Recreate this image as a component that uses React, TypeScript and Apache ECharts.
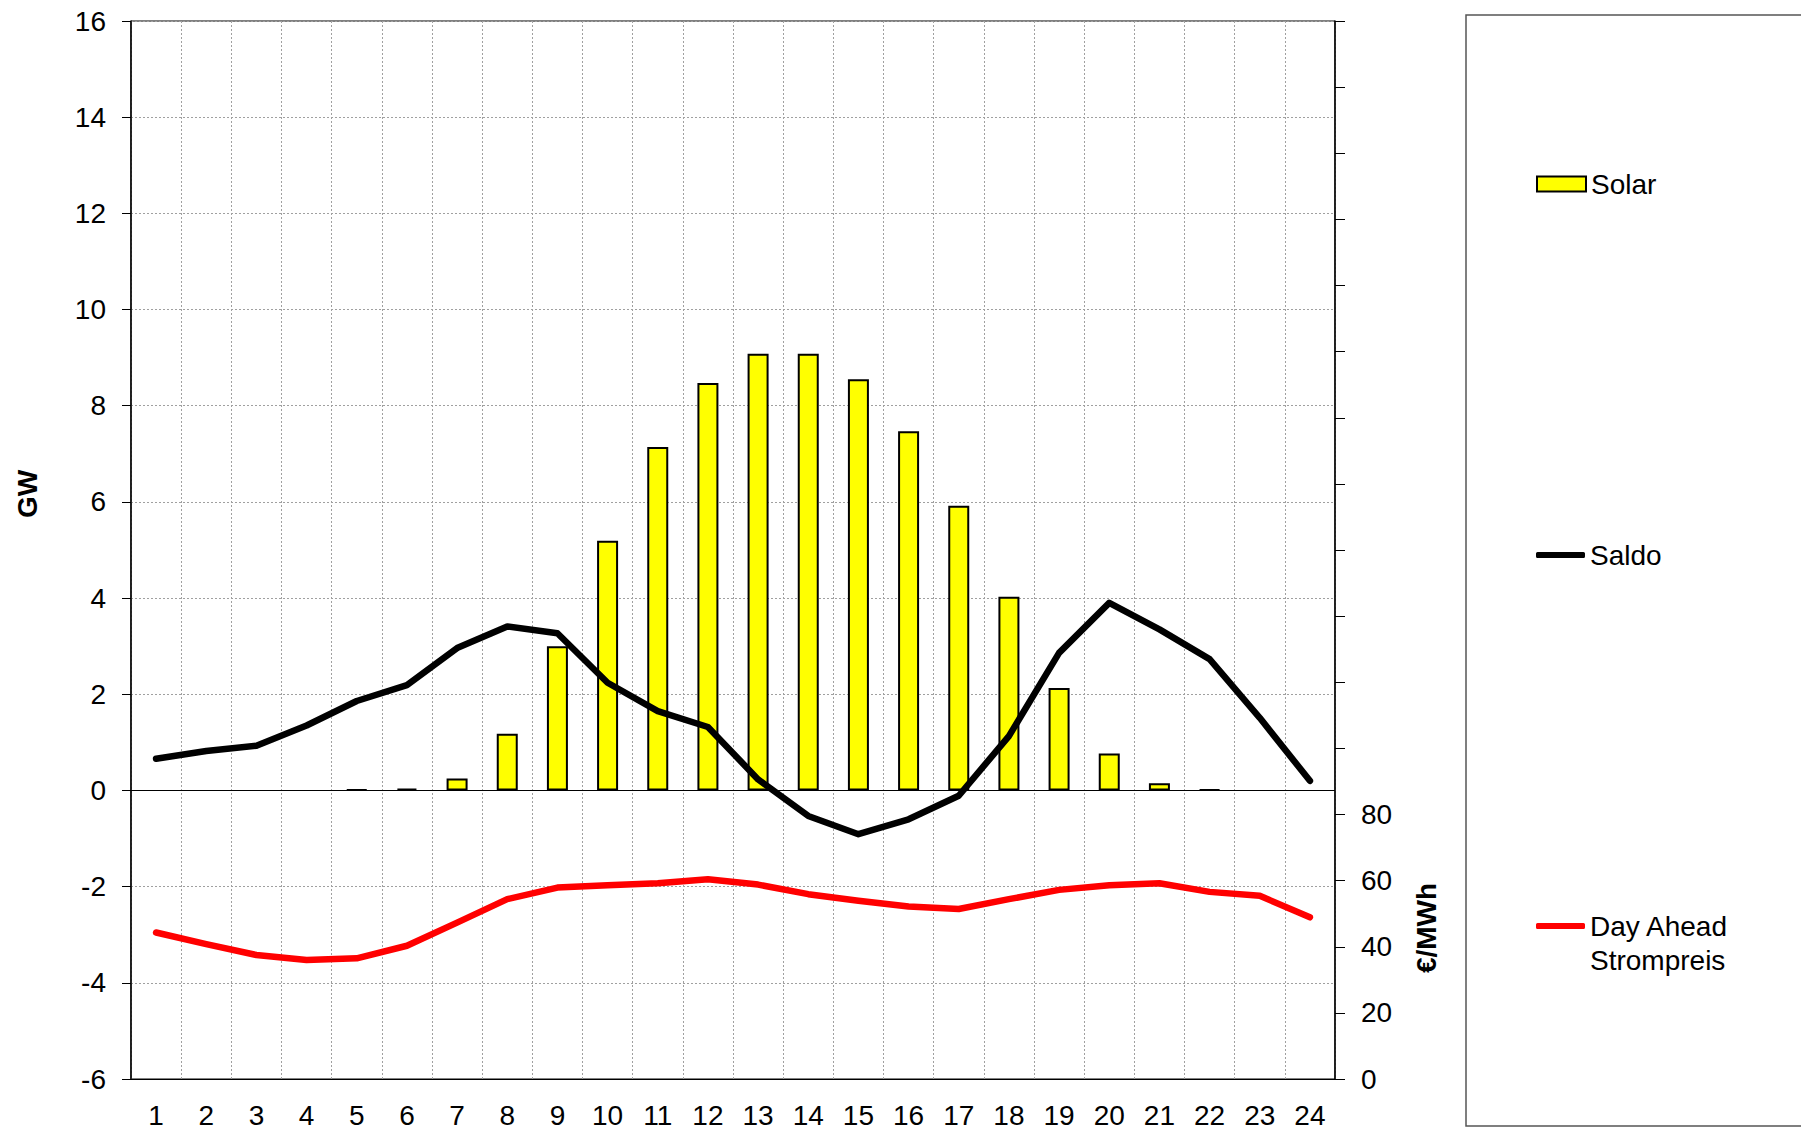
import React, { useEffect, useRef } from "react";
import * as echarts from "echarts";

const hours = ["1","2","3","4","5","6","7","8","9","10","11","12","13","14","15","16","17","18","19","20","21","22","23","24"];
const solar = [null, null, null, null, 0.02, 0.04, 0.25, 1.18, 3.0, 5.19, 7.14, 8.47, 9.08, 9.08, 8.55, 7.47, 5.92, 4.03, 2.13, 0.77, 0.15, 0.02, null, null];
const saldo = [0.66, 0.82, 0.93, 1.35, 1.86, 2.19, 2.96, 3.41, 3.27, 2.24, 1.65, 1.32, 0.23, -0.53, -0.91, -0.6, -0.11, 1.13, 2.86, 3.9, 3.35, 2.73, 1.51, 0.2];
const price = [44.3, 40.8, 37.5, 36.0, 36.5, 40.3, 47.3, 54.4, 57.9, 58.6, 59.2, 60.4, 58.8, 55.9, 53.9, 52.2, 51.4, 54.4, 57.2, 58.6, 59.2, 56.6, 55.4, 48.9];
const leftTicks = { min: -6, max: 16, interval: 2 };
const rightTicks = { min: 0, max: 320, interval: 20, labelMax: 80 };

const FONT = "'Liberation Sans', Arial, sans-serif";

export default function App() {
  const ref = useRef<HTMLDivElement>(null);
  useEffect(() => {
    document.body.style.margin = "0";
    document.body.style.overflow = "hidden";
    const chart = echarts.init(ref.current!, null, { renderer: "svg" });
    const option: any = {
      animation: false,
      backgroundColor: "#fff",
      textStyle: { fontFamily: FONT },
      grid: { left: 131, right: 466, top: 21, bottom: 49, show: true, borderColor: "#000", borderWidth: 1, backgroundColor: "transparent" },
      xAxis: {
        type: "category",
        data: hours,
        boundaryGap: true,
        axisLine: { show: true, onZero: false, lineStyle: { color: "#000", width: 1 } },
        axisTick: { show: false },
        axisLabel: { interval: 0, fontSize: 28, color: "#000", margin: 22, fontFamily: FONT },
        splitLine: { show: true, interval: 0, lineStyle: { color: "#a0a0a0", width: 1, type: [2, 2] } },
      },
      yAxis: [
        {
          type: "value",
          min: leftTicks.min,
          max: leftTicks.max,
          interval: leftTicks.interval,
          position: "left",
          axisLine: { show: true, lineStyle: { color: "#000", width: 1.5 } },
          axisTick: { show: true, length: 9, lineStyle: { color: "#000" } },
          axisLabel: { fontSize: 28, color: "#000", margin: 25, fontFamily: FONT },
          splitLine: { show: true, lineStyle: { color: "#a0a0a0", width: 1, type: [2, 2] } },
        },
        {
          type: "value",
          min: rightTicks.min,
          max: rightTicks.max,
          interval: rightTicks.interval,
          position: "right",
          axisLine: { show: true, lineStyle: { color: "#000", width: 1.5 } },
          axisTick: { show: true, length: 10, lineStyle: { color: "#000" } },
          axisLabel: {
            fontSize: 28,
            color: "#000",
            margin: 26,
            fontFamily: FONT,
            formatter: (v: number) => (v <= rightTicks.labelMax ? String(v) : ""),
          },
          splitLine: { show: false },
        },
      ],
      legend: [
        {
          data: ["Solar"],
          left: 1536,
          top: 167,
          padding: 0,
          selectedMode: false,
          itemWidth: 49,
          itemHeight: 15,
          icon: "rect",
          textStyle: { fontSize: 28, color: "#000", lineHeight: 34, fontFamily: FONT },
        },
        {
          data: ["Saldo"],
          left: 1536,
          top: 538,
          padding: 0,
          selectedMode: false,
          itemWidth: 49,
          itemHeight: 6,
          icon: "roundRect",
          textStyle: { fontSize: 28, color: "#000", lineHeight: 34, fontFamily: FONT },
        },
        {
          data: ["Day Ahead Strompreis"],
          left: 1536,
          top: 875,
          padding: 0,
          selectedMode: false,
          itemWidth: 49,
          itemHeight: 6,
          icon: "roundRect",
          formatter: () => "\nDay Ahead\nStrompreis",
          textStyle: { fontSize: 28, color: "#000", lineHeight: 34, fontFamily: FONT },
        },
      ],
      graphic: [
        {
          type: "rect",
          shape: { x: 1466, y: 15, width: 400, height: 1111 },
          style: { fill: "transparent", stroke: "#555", lineWidth: 1.5 },
          z: -1,
        },
        {
          type: "text",
          x: 27,
          y: 494,
          rotation: Math.PI / 2,
          style: { text: "GW", font: `bold 28px ${FONT}`, fill: "#000", align: "center", verticalAlign: "middle" },
        },
        {
          type: "text",
          x: 1426,
          y: 928,
          rotation: Math.PI / 2,
          style: { text: "€/MWh", font: `bold 28px ${FONT}`, fill: "#000", align: "center", verticalAlign: "middle" },
        },
      ],
      series: [
        {
          name: "Solar",
          type: "bar",
          yAxisIndex: 0,
          data: solar,
          barWidth: 21,
          itemStyle: { color: "#ffff00", borderColor: "#000", borderWidth: 2 },
          markLine: {
            silent: true,
            symbol: ["none", "none"],
            label: { show: false },
            lineStyle: { color: "#000", width: 1, type: "solid" },
            data: [{ yAxis: 0 }],
          },
          z: 2,
        },
        {
          name: "Saldo",
          type: "line",
          yAxisIndex: 0,
          data: saldo,
          symbol: "none",
          itemStyle: { color: "#000" },
          lineStyle: { color: "#000", width: 6.5, cap: "round", join: "round" },
          z: 4,
        },
        {
          name: "Day Ahead Strompreis",
          type: "line",
          yAxisIndex: 1,
          data: price,
          symbol: "none",
          itemStyle: { color: "#ff0000" },
          lineStyle: { color: "#ff0000", width: 6.5, cap: "round", join: "round" },
          z: 4,
        },
      ],
    };
    chart.setOption(option);
    return () => chart.dispose();
  }, []);
  return <div ref={ref} style={{ position: "fixed", left: 0, top: 0, width: "1801px", height: "1129px" }} />;
}
